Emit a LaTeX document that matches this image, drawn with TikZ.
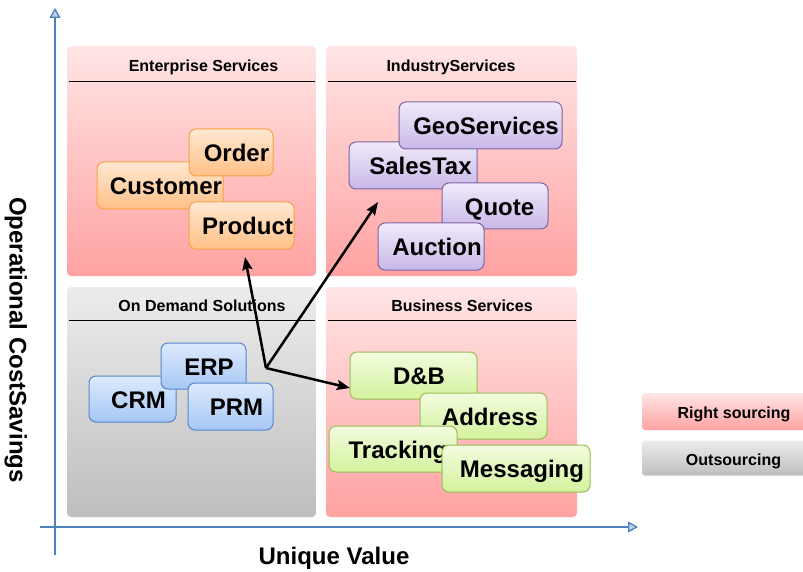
\documentclass[tikz,border=0pt]{standalone}
\usepackage{fontspec}
\setmainfont{Liberation Sans}
\usetikzlibrary{arrows.meta}

\definecolor{axisblue}{RGB}{79,129,189}
\definecolor{axisfill}{RGB}{190,210,240}
\definecolor{pinktop}{RGB}{255,229,229}
\definecolor{pinkbot}{RGB}{255,162,162}
\definecolor{greytop}{RGB}{236,236,236}
\definecolor{greybot}{RGB}{190,190,190}
\definecolor{orangetop}{RGB}{255,232,210}
\definecolor{orangebot}{RGB}{255,192,135}
\definecolor{orangeedge}{RGB}{247,162,72}
\definecolor{purpletop}{RGB}{240,234,250}
\definecolor{purplebot}{RGB}{200,184,232}
\definecolor{purpleedge}{RGB}{128,100,162}
\definecolor{bluetop}{RGB}{222,234,252}
\definecolor{bluebot}{RGB}{166,199,245}
\definecolor{blueedge}{RGB}{86,136,206}
\definecolor{greentop}{RGB}{242,252,222}
\definecolor{greenbot}{RGB}{212,242,158}
\definecolor{greenedge}{RGB}{155,187,89}

\tikzset{
  quad/.style={rounded corners=4pt, inner sep=0pt, minimum width=249pt, minimum height=230pt},
  pinkquad/.style={quad, top color=pinktop, bottom color=pinkbot},
  greyquad/.style={quad, top color=greytop, bottom color=greybot},
  quadtitle/.style={font=\fontsize{16}{16}\selectfont\bfseries, inner sep=0pt, text height=11.5pt, text depth=0pt},
  rule/.style={draw=black, line width=1pt},
  tile/.style={rounded corners=7pt, line width=1pt, inner sep=0pt, minimum height=47pt},
  orangetile/.style={tile, draw=orangeedge, top color=orangetop, bottom color=orangebot},
  purpletile/.style={tile, draw=purpleedge, top color=purpletop, bottom color=purplebot},
  bluetile/.style={tile, draw=blueedge, top color=bluetop, bottom color=bluebot},
  greentile/.style={tile, draw=greenedge, top color=greentop, bottom color=greenbot},
  tiletext/.style={font=\fontsize{24}{24}\selectfont\bfseries, inner sep=0pt, text height=17pt, text depth=0pt},
  axis/.style={draw=axisblue, line width=2.4pt, -{Triangle[length=10pt, width=11pt, line width=1.3pt, fill=axisfill]}},
  conn/.style={draw=black, line width=2.5pt, -{Stealth[length=13pt, width=10pt, inset=2pt]}},
  legend/.style={rounded corners=3pt, inner sep=0pt, minimum width=164pt},
  legendtext/.style={font=\fontsize{16}{16}\selectfont\bfseries, inner sep=0pt, text height=11.5pt, text depth=0pt},
  axislabel/.style={font=\fontsize{24}{24}\selectfont\bfseries, inner sep=0pt, text height=17pt, text depth=0pt}
}

\begin{document}
\begin{tikzpicture}[x=1pt, y=-1pt]
\useasboundingbox (0,0) rectangle (803,572);

% four quadrants
\node[pinkquad] (ent) at (191.5,161) {};
\node[pinkquad, minimum width=251pt] (ind) at (451.5,161) {};
\node[greyquad] (odm) at (191.5,402) {};
\node[pinkquad, minimum width=251pt] (bus) at (451.5,402) {};

% quadrant headings and rules
\node[quadtitle] (entT) at (203.5,66) {Enterprise Services};
\draw[rule] ([xshift=2pt,yshift=-36pt]ent.north west) -- ([xshift=-1pt,yshift=-36pt]ent.north east);
\node[quadtitle] (indT) at (451,66) {IndustryServices};
\draw[rule] ([xshift=2pt,yshift=-36pt]ind.north west) -- ([xshift=-1pt,yshift=-36pt]ind.north east);
\node[quadtitle] (odmT) at (202,306) {On Demand Solutions};
\draw[rule] ([xshift=2pt,yshift=-34pt]odm.north west) -- ([xshift=-1pt,yshift=-34pt]odm.north east);
\node[quadtitle] (busT) at (462,306) {Business Services};
\draw[rule] ([xshift=2pt,yshift=-34pt]bus.north west) -- ([xshift=-1pt,yshift=-34pt]bus.north east);

% enterprise services tiles
\node[orangetile, minimum width=126pt] (customer) at (160,185.5) {};
\node[tiletext] (customerT) at (166,186) {Customer};
\node[orangetile, minimum width=84pt] (order) at (231,152.5) {};
\node[tiletext] (orderT) at (236.5,153) {Order};
\node[orangetile, minimum width=105pt] (product) at (241.5,225.5) {};
\node[tiletext] (productT) at (247.5,226) {Product};

% industry services tiles
\node[purpletile, minimum width=128pt] (salestax) at (413,165.5) {};
\node[tiletext] (salestaxT) at (420.5,166) {SalesTax};
\node[purpletile, minimum width=163pt] (geo) at (480.5,125.5) {};
\node[tiletext] (geoT) at (486,126) {GeoServices};
\node[purpletile, minimum width=106pt, minimum height=46pt] (quote) at (495,206) {};
\node[tiletext] (quoteT) at (499.5,207) {Quote};
\node[purpletile, minimum width=106pt] (auction) at (431,246.5) {};
\node[tiletext] (auctionT) at (437,247) {Auction};

% on demand tiles
\node[bluetile, minimum width=87pt, minimum height=46pt] (crm) at (132.5,399) {};
\node[tiletext] (crmT) at (138.5,400) {CRM};
\node[bluetile, minimum width=85pt, minimum height=46pt] (erp) at (203.5,366) {};
\node[tiletext] (erpT) at (209,367) {ERP};
\node[bluetile, minimum width=85pt] (prm) at (230.5,406.5) {};
\node[tiletext] (prmT) at (236.5,407) {PRM};

% business services tiles
\node[greentile, minimum width=127pt] (dnb) at (413.5,375.5) {};
\node[tiletext] (dnbT) at (419,376) {D\&B};
\node[greentile, minimum width=127pt, minimum height=46pt] (address) at (483.5,416) {};
\node[tiletext] (addressT) at (490,417) {Address};
\node[greentile, minimum width=128pt, minimum height=46pt] (tracking) at (393,449) {};
\node[tiletext] (trackingT) at (398,450) {Tracking};
\node[greentile, minimum width=148pt] (messaging) at (516,468.5) {};
\node[tiletext] (messagingT) at (522,469) {Messaging};

% migration arrows
\coordinate (hub) at (266,368);
\coordinate (toEnt) at (245,257);
\coordinate (toInd) at (378,202);
\coordinate (toBus) at (350,388);
\draw[conn] (hub) -- (toEnt);
\draw[conn] (hub) -- (toInd);
\draw[conn] (hub) -- (toBus);

% axes
\coordinate (ybottom) at (55,555);
\coordinate (ytop) at (55,8);
\coordinate (xleft) at (40,527);
\coordinate (xright) at (638,527);
\draw[axis] (ybottom) -- (ytop);
\draw[axis] (xleft) -- (xright);
\node[axislabel] (xlabel) at (334,556) {Unique Value};
\node[axislabel, rotate=-90] (ylabel) at (18,340) {Operational CostSavings};

% legend
\node[legend, minimum height=37pt, top color=pinktop, bottom color=pinkbot] (legR) at (724,411.5) {};
\node[legendtext] (legRT) at (734,413) {Right sourcing};
\node[legend, minimum height=35pt, top color=greytop, bottom color=greybot] (legO) at (724,458) {};
\node[legendtext] (legOT) at (733.5,460) {Outsourcing};
\end{tikzpicture}
\end{document}
